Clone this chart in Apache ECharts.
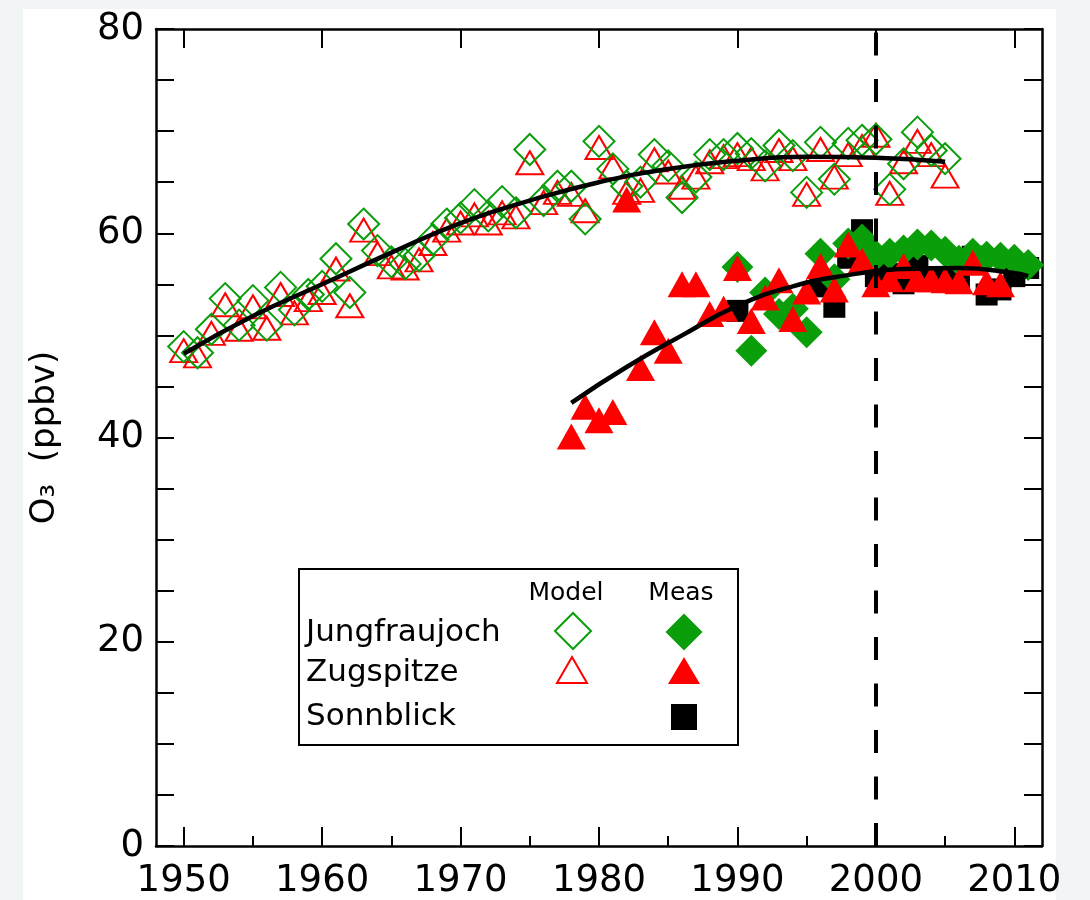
<!DOCTYPE html>
<html><head><meta charset="utf-8">
<script src="https://cdn.jsdelivr.net/npm/echarts@6/dist/echarts.min.js"></script>
<style>html,body{margin:0;padding:0;background:#fff}#c{width:1090px;height:900px}</style>
</head><body><div id="c"></div>
<script>
const modelYears = [1950,1951,1952,1953,1954,1955,1956,1957,1958,1959,1960,1961,1962,1963,1964,1965,1966,1967,1968,1969,1970,1971,1972,1973,1974,1975,1976,1977,1978,1979,1980,1981,1982,1983,1984,1985,1986,1987,1988,1989,1990,1991,1992,1993,1994,1995,1996,1997,1998,1999,2000,2001,2002,2003,2004,2005];
const jfjModel = [48.9,48.3,50.6,53.6,51.0,53.4,51.0,54.7,52.5,54.0,54.8,57.5,54.2,60.9,58.3,57.2,57.0,57.8,59.4,60.9,61.5,62.8,61.7,63.1,62.0,68.2,63.2,64.6,64.6,61.4,69.0,66.3,64.6,65.0,67.7,66.6,63.5,65.5,67.7,67.7,68.3,67.8,66.6,68.6,67.6,64.0,68.9,65.3,68.8,69.1,69.2,64.3,66.8,69.9,68.1,67.3];
const zugModel = [48.5,48.0,50.2,53.0,50.6,52.8,50.7,54.0,52.2,53.5,54.2,56.5,52.9,60.3,58.0,56.7,56.6,57.4,59.0,60.3,61.0,61.8,61.0,62.0,61.6,66.9,63.0,64.0,63.8,62.2,68.4,66.5,64.0,64.2,67.2,66.0,64.5,65.5,67.0,67.5,67.7,67.3,66.3,68.1,67.3,63.8,68.2,65.5,67.7,68.5,69.6,63.9,67.0,69.0,67.7,65.6];

const zugMeasYears = [1978,1979,1980,1981,1982,1983,1984,1985,1986,1987,1988,1989,1990,1991,1992,1993,1994,1995,1996,1997,1998,1999,2000,2001,2002,2003,2004,2005,2006,2007,2008,2009];
const zugMeas = [40.1,43.0,41.7,42.5,63.3,46.8,50.3,48.5,55.0,55.0,52.1,52.6,56.6,51.4,53.7,55.4,51.6,54.3,56.8,54.5,58.9,57.3,55.0,55.5,56.8,55.5,55.5,55.4,55.3,57.1,55.2,55.0];

const jfjMeasYears = [1990,1991,1992,1993,1994,1995,1996,1997,1998,1999,2000,2001,2002,2003,2004,2005,2006,2007,2008,2009,2010,2011];
const jfjMeas = [56.7,48.5,54.2,52.1,52.6,50.3,58.0,55.5,59.0,59.4,57.8,58.0,58.3,58.9,58.8,58.2,57.3,58.0,57.7,57.6,57.4,56.9];

const sonnYears = [1990,1996,1997,1998,1999,2000,2001,2002,2003,2004,2005,2006,2007,2008,2009,2010,2011];
const sonnMeas = [52.4,54.8,52.8,57.6,60.3,55.8,56.0,55.1,56.8,55.7,55.5,55.3,57.7,54.0,54.5,55.8,56.6];

const fitModelYears = [1950,1955,1960,1965,1970,1975,1980,1985,1990,1995,2000,2005];
const fitModel = [48.2,51.9,55.0,58.1,61.0,63.2,65.0,66.3,67.1,67.5,67.4,67.0];
const fitMeasYears = [1978,1982,1986,1990,1994,1998,2002,2006,2010,2011];
const fitMeas = [43.4,46.9,50.0,52.9,54.8,55.9,56.5,56.6,56.1,55.8];

const xMajorTicks = [1950,1960,1970,1980,1990,2000,2010];
const xMinorTicks = [1955,1965,1975,1985,1995,2005];
const yTickLabels = [0,20,40,60,80];
const refYear = 2000;

const GREEN = '#0a9e0a';
const RED = '#ff0000';
const FONT = 'DejaVu Sans';

function pairs(xs, ys){ return xs.map((x,i)=>[x, ys[i]]); }

const chart = echarts.init(document.getElementById('c'));
const xBase = {type:'value', min:1948, max:2012, splitLine:{show:false}, gridIndex:0};
chart.setOption({
  backgroundColor:'#f1f5f6',
  animation:false,
  grid:{left:156, right:48, top:29, bottom:53, show:false},
  graphic:[
    {type:'rect', z:-100, shape:{x:23,y:9,width:1033,height:891}, style:{fill:'#ffffff'}},
    {type:'group', z:100, children:[
      {type:'rect', shape:{x:299,y:569,width:439,height:176}, style:{fill:'#fff', stroke:'#000', lineWidth:2}},
      {type:'text', x:566, y:593, style:{text:'Model', font:'25px "DejaVu Sans"', fill:'#000', align:'center', verticalAlign:'middle'}},
      {type:'text', x:681, y:593, style:{text:'Meas', font:'25px "DejaVu Sans"', fill:'#000', align:'center', verticalAlign:'middle'}},
      {type:'text', x:306, y:633, style:{text:'Jungfraujoch', font:'31px "DejaVu Sans"', fill:'#000', align:'left', verticalAlign:'middle'}},
      {type:'text', x:306, y:673, style:{text:'Zugspitze', font:'31px "DejaVu Sans"', fill:'#000', align:'left', verticalAlign:'middle'}},
      {type:'text', x:306, y:717, style:{text:'Sonnblick', font:'31px "DejaVu Sans"', fill:'#000', align:'left', verticalAlign:'middle'}},
      {type:'polygon', shape:{points:[[555,631],[573,613],[591,631],[573,649]]}, style:{fill:'none', stroke:GREEN, lineWidth:2}},
      {type:'polygon', shape:{points:[[665.5,632],[684,613.5],[702.5,632],[684,650.5]]}, style:{fill:GREEN}},
      {type:'polygon', shape:{points:[[557,683],[572,657],[587,683]]}, style:{fill:'none', stroke:RED, lineWidth:2}},
      {type:'polygon', shape:{points:[[668,684],[684,657],[700,684]]}, style:{fill:RED}},
      {type:'rect', shape:{x:671,y:704,width:26,height:26}, style:{fill:'#000'}}
    ]}
  ],
  xAxis:[
    Object.assign({}, xBase, {position:'bottom',
      axisLine:{show:true, onZero:false, lineStyle:{color:'#000', width:2.5}},
      axisTick:{show:true, inside:true, length:19, customValues:xMajorTicks, lineStyle:{color:'#000', width:2}},
      axisLabel:{show:true, customValues:xMajorTicks, formatter:function(v){return String(v);}, margin:17, fontSize:37, fontFamily:FONT, color:'#000'}}),
    Object.assign({}, xBase, {position:'bottom',
      axisLine:{show:false, onZero:false},
      axisTick:{show:true, inside:true, length:10, customValues:xMinorTicks, lineStyle:{color:'#000', width:2}},
      axisLabel:{show:false}}),
    Object.assign({}, xBase, {position:'top',
      axisLine:{show:true, onZero:false, lineStyle:{color:'#000', width:2.5}},
      axisTick:{show:true, inside:true, length:19, customValues:xMajorTicks, lineStyle:{color:'#000', width:2}},
      axisLabel:{show:false}})
  ],
  yAxis:[
    {type:'value', min:0, max:80, interval:5, position:'left',
      name:'O\u2083  (ppbv)', nameLocation:'middle', nameGap:94, nameRotate:90,
      nameTextStyle:{fontSize:34, fontFamily:FONT, color:'#000'},
      splitLine:{show:false},
      axisLine:{show:true, onZero:false, lineStyle:{color:'#000', width:2.5}},
      axisTick:{show:true, inside:true, length:18, lineStyle:{color:'#000', width:2}},
      axisLabel:{show:true, customValues:yTickLabels, margin:12, fontSize:37, fontFamily:FONT, color:'#000'}},
    {type:'value', min:0, max:80, interval:5, position:'right',
      splitLine:{show:false},
      axisLine:{show:true, onZero:false, lineStyle:{color:'#000', width:2.5}},
      axisTick:{show:true, inside:true, length:18, lineStyle:{color:'#000', width:2}},
      axisLabel:{show:false}}
  ],
  series:[
    {name:'Zugspitze Model', type:'scatter', data:pairs(modelYears, zugModel), symbol:'triangle', symbolSize:[27,23],
      itemStyle:{color:'rgba(0,0,0,0)', borderColor:RED, borderWidth:2, opacity:1}},
    {name:'Jungfraujoch Model', type:'scatter', data:pairs(modelYears, jfjModel), symbol:'diamond', symbolSize:[31,31],
      itemStyle:{color:'rgba(0,0,0,0)', borderColor:GREEN, borderWidth:2, opacity:1}},
    {name:'Sonnblick Meas', type:'scatter', data:pairs(sonnYears, sonnMeas), symbol:'rect', symbolSize:[22,22],
      itemStyle:{color:'#000', opacity:1}},
    {name:'Jungfraujoch Meas', type:'scatter', data:pairs(jfjMeasYears, jfjMeas), symbol:'diamond', symbolSize:[32,32],
      itemStyle:{color:GREEN, opacity:1}},
    {name:'Zugspitze Meas', type:'scatter', data:pairs(zugMeasYears, zugMeas), symbol:'triangle', symbolSize:[29,26],
      itemStyle:{color:RED, opacity:1}},
    {name:'Model fit', type:'line', data:pairs(fitModelYears, fitModel), smooth:true, showSymbol:false, symbol:'none',
      lineStyle:{color:'#000', width:4.5},
      markLine:{silent:true, symbol:['none','none'], label:{show:false},
        lineStyle:{color:'#000', width:4, type:[23,23.5]}, data:[{xAxis:refYear}]}},
    {name:'Meas fit', type:'line', data:pairs(fitMeasYears, fitMeas), smooth:true, showSymbol:false, symbol:'none',
      lineStyle:{color:'#000', width:4.5}}
  ]
});
</script></body></html>
